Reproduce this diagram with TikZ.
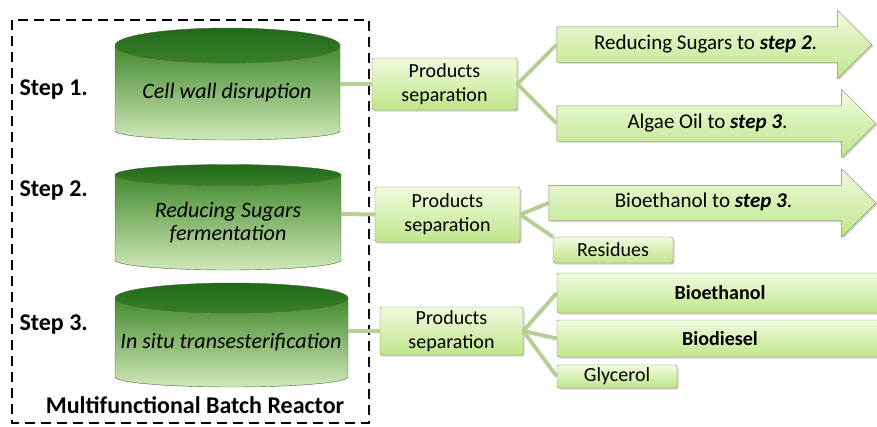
\documentclass[tikz,border=0pt]{standalone}
\usepackage{fontspec}
\setmainfont{Carlito}
\usepackage{tikz}
\usetikzlibrary{shapes.arrows,shadows}

\definecolor{tanktop}{RGB}{32,105,26}
\definecolor{tanktopb}{RGB}{58,128,42}
\definecolor{tankhi}{RGB}{66,138,46}
\definecolor{tanklow}{RGB}{208,232,184}
\definecolor{tankedge}{RGB}{80,100,55}
\definecolor{boxtop}{RGB}{240,251,222}
\definecolor{boxbot}{RGB}{192,229,138}
\definecolor{boxedge}{RGB}{120,136,100}
\definecolor{linkgreen}{RGB}{182,207,150}

% reactor vessel: left x, right x, top centre y, top radius, bottom centre y, bottom radius
\newcommand\vessel[6]{%
  \pgfmathsetmacro\vesselrx{(#2-#1)/2}
  \shade[top color=tankhi, bottom color=tanklow, draw=tankedge, thin]
    (#1,#3) -- (#1,#5) arc[start angle=180, end angle=360, x radius=\vesselrx pt, y radius=#6pt]
    -- (#2,#3) arc[start angle=0, end angle=-180, x radius=\vesselrx pt, y radius=#4pt] -- cycle;
  \shade[top color=tanktop, bottom color=tanktopb, draw=tankedge, thin]
    ({(#1+#2)/2},#3) ellipse[x radius=\vesselrx pt, y radius=#4pt];
}

\tikzset{
  steptext/.style={font=\fontsize{24}{26}\selectfont\bfseries, anchor=west},
  tanktext/.style={font=\fontsize{22}{23}\selectfont\itshape, align=center},
  greenbox/.style={draw=boxedge, top color=boxtop, bottom color=boxbot,
    rounded corners=1.5pt, align=center, font=\fontsize{20}{24}\selectfont,
    drop shadow={shadow xshift=1.5pt, shadow yshift=-1.5pt, opacity=.35}},
  prodarrow/.style={single arrow, draw=boxedge, top color=boxtop, bottom color=boxbot,
    single arrow head extend=16.5pt, single arrow head indent=0pt,
    text height=14pt, text depth=5pt, inner ysep=8pt,
    font=\fontsize{21}{24}\selectfont,
    drop shadow={shadow xshift=1.5pt, shadow yshift=-1.5pt, opacity=.35}},
  link/.style={draw=linkgreen, line width=4pt}
}

\begin{document}
\begin{tikzpicture}[x=1pt, y=-1pt]
  \clip (0,0) rectangle (877,426);

  % the batch reactor
  \draw[line width=2.2pt, dash pattern=on 10pt off 6pt] (12,20) rectangle (369,423);
  \vessel{115}{340}{45.5}{17.5}{131}{9}
  \vessel{115}{341}{175}{10.5}{260}{10}
  \vessel{115}{348}{298}{15}{377}{10}

  \node[tanktext] (tank1) at (227,93) {Cell wall disruption};
  \node[tanktext] (tank2) at (228,223) {Reducing Sugars\\fermentation};
  \node[tanktext] (tank3) at (231,342) {In situ transesterification};

  \node[steptext] (step1) at (16,90) {Step 1.};
  \node[steptext] (step2) at (16,191) {Step 2.};
  \node[steptext] (step3) at (16,325) {Step 3.};
  \node[font=\fontsize{24}{26}\selectfont\bfseries] (reactor) at (195,405) {Multifunctional Batch Reactor};

  \coordinate (tank1e) at (340,84);
  \coordinate (tank2e) at (341,214);
  \coordinate (tank3e) at (348,331);

  % separation stages
  \node[greenbox, minimum width=145pt, minimum height=52pt] (sep1) at (444.5,84) {Products\\separation};
  \node[greenbox, minimum width=145pt, minimum height=55pt] (sep2) at (447.5,214.5) {Products\\separation};
  \node[greenbox, minimum width=143pt, minimum height=48pt] (sep3) at (451.5,331) {Products\\separation};

  \node[prodarrow, minimum height=315pt] (sugars) at (705.5,44.5) {Reducing Sugars to \textbf{\textit{step 2}}.};
  \node[prodarrow, minimum height=319pt] (oil) at (707.5,123.5) {Algae Oil to \textbf{\textit{step 3}}.};
  \node[prodarrow, minimum height=327pt] (ethanol) at (703.5,203) {Bioethanol to \textbf{\textit{step 3}}.};

  \node[greenbox, minimum width=120pt, minimum height=26pt, inner sep=0pt] (residues) at (613,250) {Residues};
  \node[greenbox, minimum width=326pt, minimum height=40pt, font=\fontsize{20}{24}\selectfont\bfseries] (bioethanol) at (720,293) {Bioethanol};
  \node[greenbox, minimum width=326pt, minimum height=37pt, font=\fontsize{20}{24}\selectfont\bfseries] (biodiesel) at (720,338.5) {Biodiesel};
  \node[greenbox, minimum width=120pt, minimum height=23pt, inner sep=0pt] (glycerol) at (617,376.5) {Glycerol};

  % connectors
  \draw[link] (tank1e) -- (sep1.west);
  \draw[link] (tank2e) -- (sep2.west);
  \draw[link] (tank3e) -- (sep3.west);
  \draw[link] (sep1.east) -- (sugars.tail);
  \draw[link] (sep1.east) -- (oil.tail);
  \draw[link] (sep2.east) -- (ethanol.tail);
  \draw[link] (sep2.east) -- (residues.north west);
  \draw[link] (sep3.east) -- (bioethanol.west);
  \draw[link] (sep3.east) -- (biodiesel.west);
  \draw[link] (sep3.east) -- (glycerol.west);
\end{tikzpicture}
\end{document}
